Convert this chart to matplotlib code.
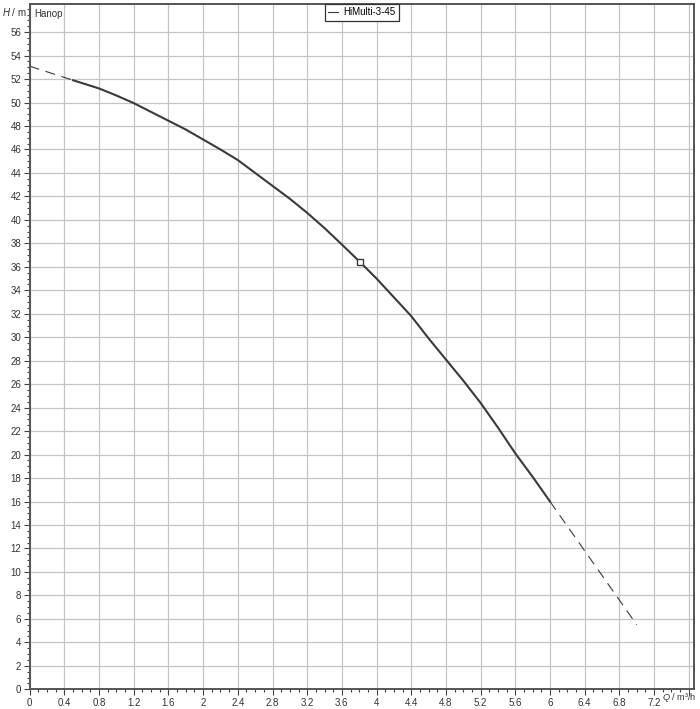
import numpy as np
import matplotlib
matplotlib.use('Agg')
import matplotlib.pyplot as plt
from matplotlib.ticker import MultipleLocator, FixedLocator

plt.rcParams['font.family'] = ['Liberation Sans', 'DejaVu Sans']
plt.rcParams['mathtext.fontset'] = 'custom'
plt.rcParams['mathtext.it'] = 'Liberation Sans:italic'
plt.rcParams['mathtext.rm'] = 'Liberation Sans'

# Pump curve HiMulti-3-45 (Q in m3/h, H in m)
vtQSolid = [0.5, 0.8, 1.0, 1.2, 1.4, 1.6, 1.8, 2.0, 2.2, 2.4, 2.6, 2.8, 3.0, 3.2, 3.4, 3.6,
            3.81, 4.0, 4.2, 4.4, 4.6, 4.8, 5.0, 5.2, 5.4, 5.6, 5.8, 6.0]
vtHSolid = [51.9, 51.2, 50.6, 49.95, 49.2, 48.45, 47.7, 46.85, 46.0, 45.1, 44.0, 42.9, 41.8, 40.6,
            39.3, 37.9, 36.4, 35.0, 33.4, 31.8, 29.9, 28.1, 26.3, 24.4, 22.3, 20.1, 18.1, 16.0]
vtQStart = [0.0, 0.5]
vtHStart = [53.1, 51.9]
vtQEnd = [6.0, 7.0]
vtHEnd = [16.0, 5.5]
dQOp, dHOp = 3.81, 36.4  # operating point
vtXTicks = [0, 0.4, 0.8, 1.2, 1.6, 2, 2.4, 2.8, 3.2, 3.6, 4, 4.4, 4.8, 5.2, 5.6, 6, 6.4, 6.8, 7.2]
vtYTicks = list(range(0, 57, 2))

fig = plt.figure(figsize=(7.0, 7.09), dpi=100)
ax = fig.add_axes([0.0424, 0.0278, 0.949, 0.9666])

cLine = '#3a3a3a'
ax.plot(vtQStart, vtHStart, color=cLine, lw=0.8, dashes=(9, 6))
ax.plot(vtQEnd, vtHEnd, color=cLine, lw=0.8, dashes=(9, 6))
ax.plot(vtQSolid, vtHSolid, color=cLine, lw=1.5, label='HiMulti-3-45', solid_joinstyle='round')
ax.plot([dQOp], [dHOp], marker='s', ms=4.5, mfc='white', mec=cLine, mew=1.0, ls='none')

ax.set_xlim(0, 7.66)
ax.set_ylim(0, 58.4)
ax.xaxis.set_major_locator(FixedLocator(vtXTicks + [7.6]))
ax.set_xticklabels([f'{v:g}' for v in vtXTicks] + [''])
ax.xaxis.set_minor_locator(MultipleLocator(0.1))
ax.yaxis.set_major_locator(FixedLocator(vtYTicks))
ax.set_yticklabels([str(v) for v in vtYTicks])
ax.yaxis.set_minor_locator(MultipleLocator(0.5))

ax.tick_params(which='major', length=4, width=0.8, color='#444444', labelsize=7,
               labelcolor='#333333', pad=2)
ax.tick_params(which='minor', length=2.5, width=0.8, color='#444444')
ax.grid(True, which='major', color='#c4c4c4', lw=0.9)
ax.set_axisbelow(True)
for sp in ax.spines.values():
    sp.set_color('#555555')
    sp.set_linewidth(1.4)

ax.text(0.0065, 0.985, 'Hanop', transform=ax.transAxes, fontsize=7, color='#333333',
        ha='left', va='center')
fig.text(0.003, 1 - 12 / 709, '$H$ / m', fontsize=7, color='#333333', ha='left', va='center')
fig.text(662 / 700, 1 - 697 / 709, '$Q$ / m³/h', fontsize=6.6, color='#333333',
         ha='left', va='center')

leg = ax.legend(loc='upper center', bbox_to_anchor=(0.5, 1.0), borderaxespad=0,
                fontsize=7, handlelength=1.0, handletextpad=0.5, fancybox=False,
                framealpha=1, edgecolor='#333333', borderpad=0.35)
leg.get_frame().set_linewidth(0.9)
for hl in leg.get_lines():
    hl.set_linewidth(0.8)

fig.savefig('out.png', dpi=100)
